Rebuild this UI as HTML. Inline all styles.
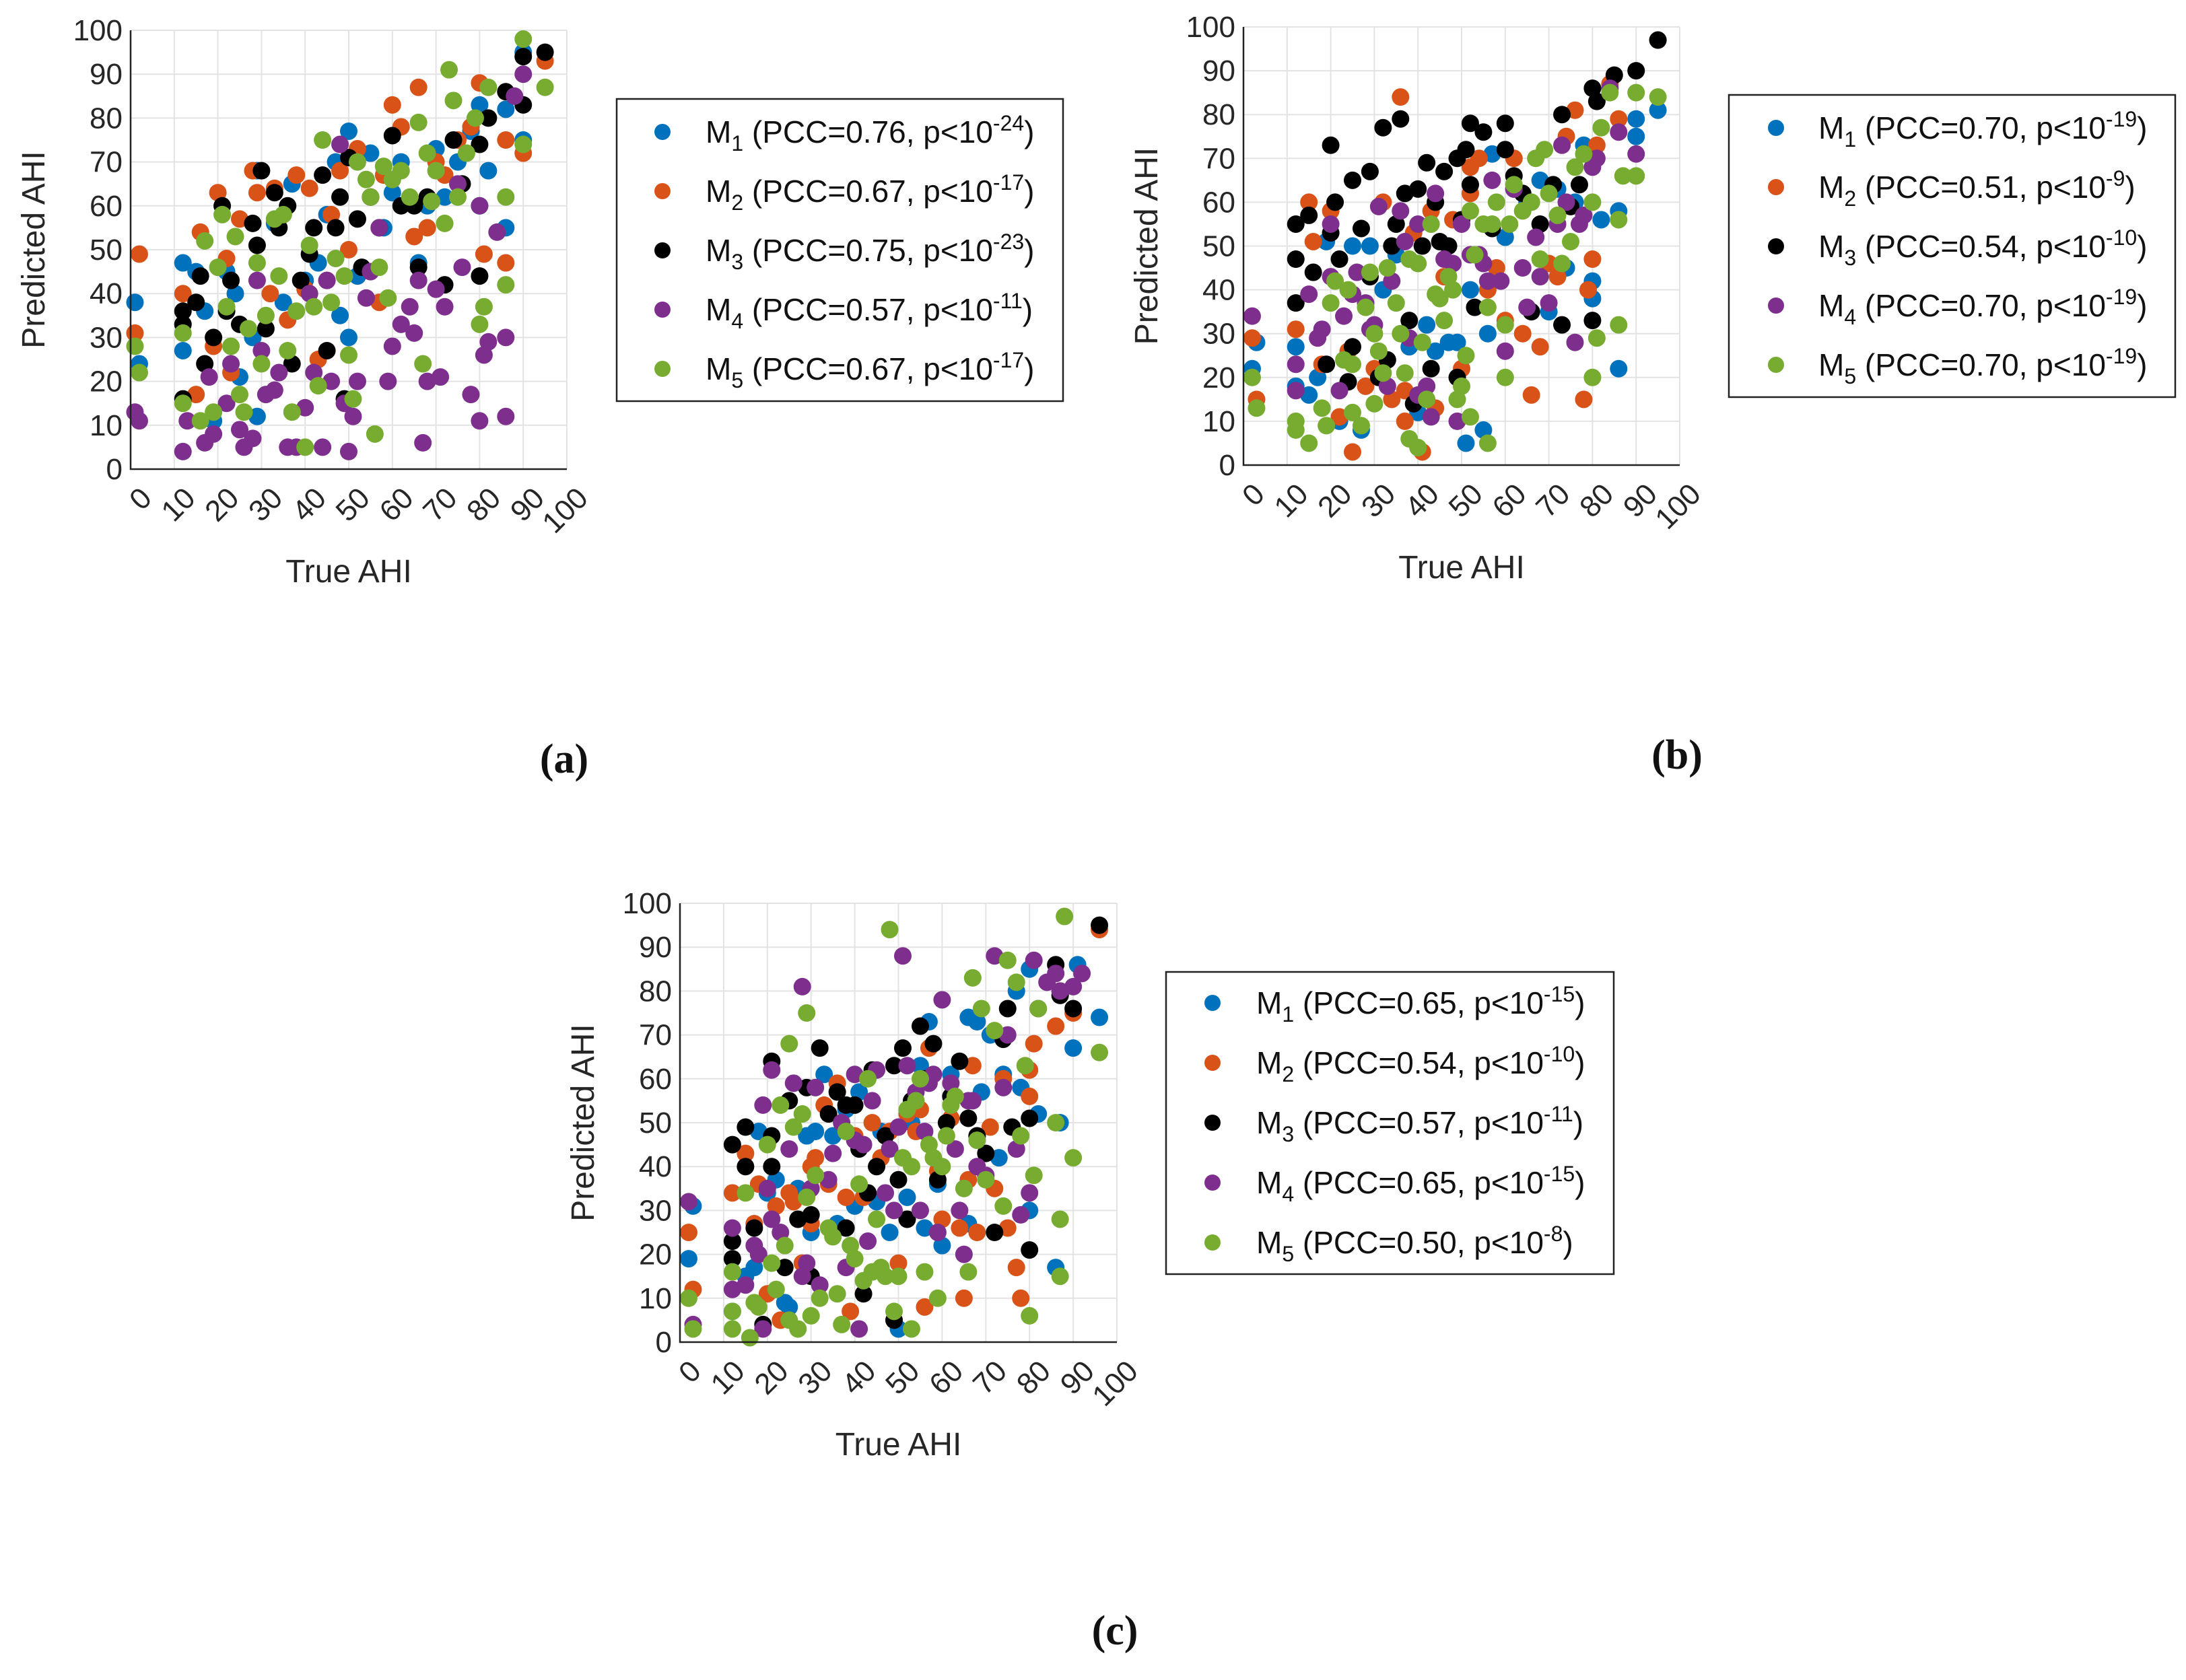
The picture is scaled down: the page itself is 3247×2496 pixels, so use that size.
<!DOCTYPE html>
<html><head><meta charset="utf-8"><style>
html,body{margin:0;padding:0;background:#fff;}
svg{display:block;font-family:"Liberation Sans",Arial,sans-serif;}
</style></head><body>
<svg id="fig" width="3247" height="2496" viewBox="0 0 3247 2496" xmlns="http://www.w3.org/2000/svg"></svg>
<script>
const xTicks=[0,10,20,30,40,50,60,70,80,90,100];
const yTicks=[0,10,20,30,40,50,60,70,80,90,100];
const seriesNames=["M1","M2","M3","M4","M5"];
const seriesColors=["#0072BD","#D95319","#000000","#7E2F8E","#77AC30"];
const legendA=[["0.76","-24"],["0.67","-17"],["0.75","-23"],["0.57","-11"],["0.67","-17"]];
const legendB=[["0.70","-19"],["0.51","-9"],["0.54","-10"],["0.70","-19"],["0.70","-19"]];
const legendC=[["0.65","-15"],["0.54","-10"],["0.57","-11"],["0.65","-15"],["0.50","-8"]];

const a_M1=[[1,38],[2,24],[12,47],[12,27],[15,45],[17,36],[19,11],[22,45],[24,40],[25,21],[28,30],[29,68],[29,12],[33,56],[35,38],[37,65],[40,43],[43,47],[45,58],[47,70],[48,35],[50,77],[50,30],[52,44],[55,72],[58,55],[60,63],[62,70],[66,47],[68,60],[70,73],[72,62],[75,70],[78,77],[80,83],[80,60],[82,68],[86,82],[86,55],[90,95],[90,75]];
const a_M2=[[1,31],[2,49],[12,40],[15,17],[16,54],[19,28],[20,63],[22,48],[23,22],[25,57],[28,68],[29,63],[32,40],[33,64],[36,34],[38,67],[40,41],[41,64],[43,25],[45,43],[46,58],[48,68],[50,50],[52,73],[55,62],[57,38],[58,67],[60,83],[62,78],[65,53],[66,87],[68,55],[70,70],[72,67],[75,75],[78,78],[80,88],[81,49],[86,75],[86,47],[90,72],[95,93]];
const a_M3=[[12,36],[12,33],[12,16],[15,38],[16,44],[17,24],[19,30],[21,60],[22,36],[23,43],[25,33],[28,56],[29,51],[30,68],[31,32],[33,63],[34,55],[36,60],[37,24],[39,43],[41,49],[42,55],[44,67],[45,27],[47,55],[48,62],[49,16],[50,71],[52,57],[53,46],[55,62],[57,55],[60,76],[62,60],[65,60],[66,46],[68,62],[72,42],[74,75],[76,65],[80,44],[80,74],[82,80],[86,86],[90,94],[90,83],[95,95]];
const a_M4=[[1,13],[2,11],[12,4],[13,11],[17,6],[18,21],[19,8],[22,15],[23,24],[25,9],[26,5],[28,7],[29,43],[30,27],[31,17],[33,18],[34,22],[36,5],[38,5],[40,14],[41,40],[42,22],[44,5],[45,43],[46,20],[48,74],[49,15],[50,4],[51,12],[52,20],[54,39],[55,45],[57,55],[59,20],[60,28],[62,33],[64,37],[65,31],[66,43],[67,6],[68,20],[70,41],[71,21],[72,37],[75,65],[76,46],[78,17],[80,11],[80,60],[81,26],[82,29],[84,54],[86,30],[86,12],[88,85],[90,90]];
const a_M5=[[1,28],[2,22],[12,15],[12,31],[16,11],[17,52],[19,13],[20,46],[21,58],[22,37],[23,28],[24,53],[25,17],[26,13],[27,32],[29,47],[30,24],[31,35],[33,57],[34,44],[35,58],[36,27],[37,13],[38,36],[40,5],[41,51],[42,37],[43,19],[44,75],[46,38],[47,48],[49,44],[50,26],[51,16],[52,70],[54,66],[55,62],[56,8],[57,46],[58,69],[59,39],[60,66],[62,68],[64,62],[66,79],[67,24],[68,72],[69,61],[70,68],[72,56],[73,91],[74,84],[75,62],[77,72],[79,80],[80,33],[81,37],[82,87],[86,62],[86,42],[90,98],[90,74],[95,87]];

const b_M1=[[2,22],[3,28],[12,27],[12,18],[15,16],[17,20],[19,51],[22,10],[25,50],[27,8],[29,50],[32,40],[35,48],[38,27],[40,12],[42,32],[44,26],[47,28],[49,28],[51,5],[52,40],[55,8],[56,30],[57,71],[60,52],[62,63],[65,60],[68,65],[70,35],[72,63],[74,45],[76,60],[78,73],[80,38],[80,42],[82,56],[86,22],[86,58],[90,79],[90,75],[95,81]];
const b_M2=[[2,29],[3,15],[12,31],[15,60],[16,51],[18,23],[20,58],[22,11],[24,26],[25,3],[28,18],[30,22],[32,60],[34,15],[36,84],[37,10],[37,17],[39,53],[41,3],[43,58],[44,13],[46,43],[48,56],[50,22],[52,68],[52,62],[54,70],[56,40],[58,45],[60,33],[62,70],[64,30],[66,16],[68,27],[70,46],[72,43],[74,75],[76,81],[78,15],[79,40],[80,47],[81,73],[84,87],[86,79],[95,97]];
const b_M3=[[12,55],[12,47],[12,37],[15,57],[16,44],[19,23],[20,53],[20,73],[21,60],[22,47],[24,19],[25,27],[25,65],[27,54],[29,43],[29,67],[31,20],[32,77],[33,24],[34,50],[35,55],[36,79],[37,62],[38,33],[39,14],[40,63],[41,50],[42,69],[43,22],[44,60],[45,51],[46,67],[47,50],[49,70],[49,20],[50,56],[51,72],[52,64],[52,78],[53,36],[55,76],[57,54],[60,78],[60,72],[62,66],[64,62],[66,35],[68,55],[71,64],[73,32],[73,80],[75,59],[77,64],[80,86],[80,33],[81,83],[85,89],[90,90],[95,97]];
const b_M4=[[2,34],[12,17],[12,23],[15,39],[17,29],[18,31],[20,55],[20,43],[22,17],[23,34],[25,39],[26,44],[28,37],[29,31],[30,32],[31,59],[33,18],[34,42],[36,58],[37,51],[38,29],[40,55],[40,16],[42,18],[43,11],[44,62],[46,47],[48,46],[49,10],[50,55],[52,48],[54,48],[55,46],[56,42],[57,65],[59,42],[60,26],[62,63],[64,45],[65,36],[67,52],[68,43],[70,37],[72,55],[73,73],[74,60],[76,28],[77,55],[78,57],[80,68],[81,70],[84,86],[86,76],[90,71]];
const b_M5=[[2,20],[3,13],[12,10],[12,8],[15,5],[18,13],[19,9],[20,37],[21,42],[23,24],[24,40],[25,12],[25,23],[27,9],[28,36],[29,44],[30,30],[30,14],[31,26],[32,21],[33,45],[35,37],[36,30],[37,21],[38,6],[38,47],[40,46],[40,4],[41,28],[42,15],[43,55],[44,39],[45,38],[46,33],[47,43],[48,40],[49,15],[50,18],[51,25],[52,11],[52,58],[53,48],[55,55],[56,5],[56,36],[57,55],[58,60],[60,20],[60,32],[61,55],[62,64],[64,58],[66,60],[67,70],[68,47],[69,72],[70,62],[72,57],[73,46],[75,51],[76,68],[78,71],[80,20],[80,60],[81,29],[82,77],[84,85],[86,32],[86,56],[87,66],[90,66],[90,85],[95,84]];

const c_M1=[[2,19],[3,31],[12,23],[12,7],[15,15],[17,17],[18,48],[20,34],[22,37],[24,9],[25,8],[27,35],[29,47],[30,25],[31,48],[33,61],[35,47],[36,27],[38,53],[40,31],[41,57],[43,34],[45,32],[46,48],[48,25],[50,3],[52,33],[53,50],[55,63],[56,26],[57,73],[59,36],[60,22],[62,61],[66,74],[66,27],[68,73],[69,57],[71,70],[73,42],[74,61],[77,80],[78,58],[80,85],[80,30],[82,52],[86,17],[87,50],[90,67],[91,86],[96,74]];
const c_M2=[[2,25],[3,12],[12,34],[15,43],[17,27],[18,36],[20,11],[22,31],[23,5],[25,34],[26,32],[28,18],[30,40],[30,27],[31,42],[33,54],[34,36],[36,59],[38,33],[39,7],[40,47],[42,33],[44,50],[46,42],[48,48],[50,18],[52,52],[54,48],[55,53],[56,8],[57,67],[59,39],[60,28],[62,51],[64,26],[65,10],[66,37],[67,63],[68,25],[71,49],[72,35],[74,60],[75,26],[77,17],[78,10],[80,56],[80,62],[81,68],[86,72],[87,80],[90,75],[96,94]];
const c_M3=[[12,45],[12,23],[12,19],[15,49],[15,40],[17,26],[19,4],[21,64],[21,47],[21,40],[24,17],[25,55],[27,28],[29,58],[30,29],[30,15],[32,67],[34,52],[36,57],[38,54],[38,26],[40,54],[41,44],[42,11],[43,34],[44,62],[45,40],[47,47],[49,63],[49,5],[50,37],[51,67],[52,28],[53,55],[55,72],[56,60],[58,68],[59,37],[61,50],[62,56],[64,64],[66,51],[68,47],[70,43],[72,25],[74,69],[75,76],[76,49],[80,51],[80,21],[86,86],[87,79],[90,76],[96,95]];
const c_M4=[[2,32],[3,4],[12,26],[12,12],[15,13],[17,22],[18,20],[19,3],[19,54],[20,35],[21,62],[21,28],[23,25],[25,44],[26,59],[28,15],[28,81],[29,18],[30,35],[31,58],[32,13],[34,37],[35,43],[37,50],[38,17],[40,46],[40,61],[41,3],[42,45],[43,23],[44,55],[45,62],[47,34],[48,44],[49,30],[50,49],[51,88],[52,63],[54,57],[55,30],[56,48],[57,59],[58,61],[59,25],[60,78],[62,59],[63,44],[64,30],[65,20],[66,55],[67,55],[68,40],[70,38],[72,88],[74,58],[75,70],[77,44],[78,29],[80,34],[81,87],[82,76],[84,82],[86,84],[87,80],[90,81],[92,84]];
const c_M5=[[2,10],[3,3],[12,7],[12,3],[12,16],[15,34],[16,1],[17,9],[18,8],[20,45],[21,18],[22,12],[23,54],[24,22],[25,68],[25,5],[26,49],[27,3],[28,52],[29,75],[29,33],[30,6],[31,38],[32,10],[34,26],[35,24],[36,11],[37,4],[38,48],[39,22],[40,19],[41,36],[42,14],[43,60],[44,16],[45,28],[46,17],[47,15],[48,94],[49,7],[50,15],[51,42],[52,53],[53,3],[53,40],[54,55],[55,60],[56,16],[57,45],[58,42],[59,10],[60,40],[61,47],[62,54],[63,56],[65,35],[66,16],[67,83],[68,46],[69,76],[70,37],[72,71],[74,31],[75,87],[77,82],[78,47],[79,63],[80,6],[81,38],[82,76],[86,50],[87,28],[87,15],[88,97],[90,42],[96,66]];

const NS="http://www.w3.org/2000/svg";
const svg=document.getElementById('fig');
function mk(tag,attrs,parent){const e=document.createElementNS(NS,tag);for(const k in attrs)e.setAttribute(k,attrs[k]);(parent||svg).appendChild(e);return e;}

function drawPanel(id,box,leg,legendVals,series,label){
  const g=mk('g',{});
  
  
  const X=v=>box.l+(box.r-box.l)*v/100;
  const Y=v=>box.b-(box.b-box.t)*v/100;
  xTicks.forEach(t=>{const ln=mk('line',{x1:X(t),x2:X(t),y1:box.t,y2:box.b,stroke:'#e3e3e3','stroke-width':2},g);
    
    });
  yTicks.forEach(t=>{const ln=mk('line',{x1:box.l,x2:box.r,y1:Y(t),y2:Y(t),stroke:'#e3e3e3','stroke-width':2},g);
    
    });
  series.forEach((pts,si)=>{
    const sg=mk('g',{fill:seriesColors[si]},g);
    
    
    pts.forEach(p=>{const c=mk('circle',{cx:X(p[0]),cy:Y(p[1]),r:13},sg);
      
      });
  });
  const ax=mk('path',{d:`M${box.l},${box.t}V${box.b}H${box.r}`,fill:'none',stroke:'#222','stroke-width':2.5},g);
  
  
  yTicks.forEach(t=>{
    const tk=mk('text',{x:box.l-12,y:Y(t)+15,'text-anchor':'end','font-size':44,fill:'#262626'},g);
    tk.textContent=t;
    
    
  });
  xTicks.forEach(t=>{
    const tk=mk('text',{transform:`translate(${X(t)+12},${box.b+24}) rotate(-45)`,'text-anchor':'end','font-size':44,fill:'#262626',dy:'0.7em'},g);
    tk.textContent=t;
    
    
  });
  const xt=mk('text',{x:(box.l+box.r)/2,y:box.b+168,'text-anchor':'middle','font-size':48,fill:'#262626'},g);
  xt.textContent='True AHI';
  
  
  const cy=(box.t+box.b)/2;
  const yt=mk('text',{transform:`translate(${box.l-128},${cy}) rotate(-90)`,'text-anchor':'middle','font-size':48,fill:'#262626'},g);
  yt.textContent='Predicted AHI';
  
  
  const lg=mk('g',{},g);
  
  
  mk('rect',{x:leg.l,y:leg.t,width:leg.w,height:leg.h,fill:'#fff',stroke:'#222','stroke-width':2.5},lg);
  legendVals.forEach((v,i)=>{
    const ry=leg.t+leg.r0+i*leg.dy;
    const e=mk('g',{},lg);
    
    
    mk('circle',{cx:leg.l+leg.mx,cy:ry,r:12,fill:seriesColors[i]},e);
    const tx=mk('text',{x:leg.l+leg.tx,y:ry+16,'font-size':46,fill:'#111'},e);
    tx.innerHTML=`M<tspan font-size="32" dy="12">${i+1}</tspan><tspan dy="-12"> (PCC=${v[0]}, p&lt;10</tspan><tspan font-size="32" dy="-18">${v[1]}</tspan><tspan dy="18">)</tspan>`;
  });
  const lb=mk('text',{x:label[0],y:label[1],'text-anchor':'middle','font-size':62,'font-family':'Liberation Serif, serif','font-weight':'bold',fill:'#111'},g);
  lb.textContent=label[2];
  
  
}

drawPanel('a',{l:194,r:842,t:45,b:697},{l:916,t:147,w:663,h:449,mx:68,tx:132,r0:49,dy:88},legendA,[a_M1,a_M2,a_M3,a_M4,a_M5],[838,1148,'(a)']);
drawPanel('b',{l:1847,r:2495,t:40,b:691},{l:2568,t:141,w:663,h:449,mx:70,tx:133,r0:49,dy:88},legendB,[b_M1,b_M2,b_M3,b_M4,b_M5],[2491,1142,'(b)']);
drawPanel('c',{l:1010,r:1659,t:1342,b:1994},{l:1732,t:1444,w:665,h:449,mx:69,tx:134,r0:46,dy:89},legendC,[c_M1,c_M2,c_M3,c_M4,c_M5],[1656,2443,'(c)']);
</script>
</body></html>
